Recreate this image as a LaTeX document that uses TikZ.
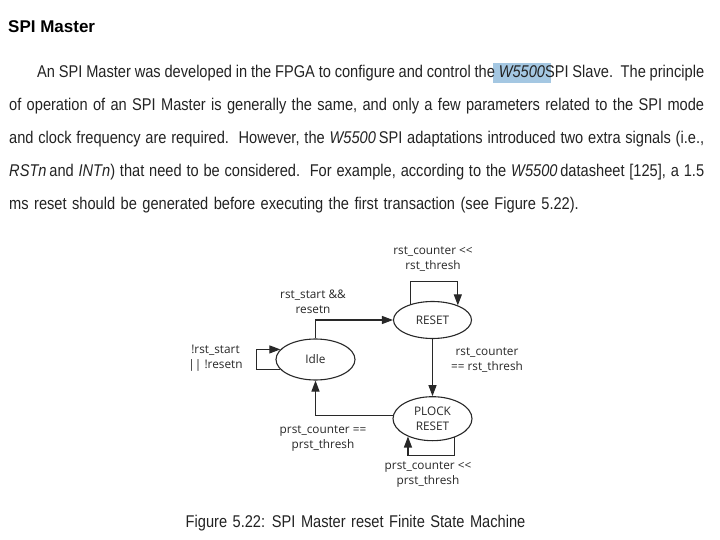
\documentclass[tikz,border=0pt]{standalone}
\usepackage{fontspec}
\setmainfont{Liberation Sans}[FakeStretch=0.86, WordSpace=1.35]
\newfontfamily\headfont{Liberation Sans}
\newfontfamily\fsmfont{Open Sans}
\usetikzlibrary{arrows.meta,shapes.geometric}
\definecolor{bodytext}{RGB}{35,35,35}
\definecolor{fsmline}{RGB}{40,40,40}
\definecolor{selblue}{RGB}{164,199,226}
\tikzset{
  state/.style={draw=fsmline, line width=1.1pt, ellipse, align=center, inner sep=0pt,
    font=\fsmfont\fontsize{11.8}{15}\selectfont, text=fsmline},
  guard/.style={font=\fsmfont\fontsize{11.8}{15}\selectfont, text=fsmline, align=center, inner sep=0pt},
  textline/.style={anchor=base west, inner sep=0pt, font=\fontsize{17}{20}\selectfont, text=bodytext},
}
\begin{document}
\begin{tikzpicture}[x=1pt, y=-1pt, >={Triangle[length=11pt,width=8pt]}]
        \fill[white] (0,0) rectangle (720,540);
        \useasboundingbox (0,0) rectangle (720,540);
        % heading and paragraph
        \node[anchor=base west, inner sep=0pt, font=\headfont\bfseries\fontsize{17}{20}\selectfont] at(8, 33) (title) {SPI Master};
        \fill[selblue] (493,63) rectangle (551,83);
        \node[textline] at(37, 78) (p1) {\makebox[667pt][s]{An SPI Master was developed in the FPGA to configure and control the \textit{W5500}SPI Slave.\ \ The principle}};
        \node[textline] at(9, 111) (p2) {\makebox[695pt][s]{of operation of an SPI Master is generally the same, and only a few parameters related to the SPI mode}};
        \node[textline] at(9, 144) (p3) {\makebox[695pt][s]{and clock frequency are required.\ \ However, the \textit{W5500}\,SPI adaptations introduced two extra signals (i.e.,}};
        \node[textline] at(9, 177) (p4) {\makebox[695pt][s]{\textit{RSTn}\,and \textit{INTn}) that need to be considered.\ \ For example, according to the \textit{W5500}\,datasheet [125], a 1.5}};
        \node[textline] at(9, 210) (p5) {ms reset should be generated before executing the first transaction (see Figure 5.22).};
        % states
        \node[state, minimum width=79pt, minimum height=41pt] at(315.5, 359.5) (idle) {Idle};
        \node[state, minimum width=78pt, minimum height=37pt] at(432.5, 320) (reset) {RESET};
        \node[state, minimum width=79pt, minimum height=44pt] at(432.5, 418.7) (plock) {PLOCK\\RESET};
        % transitions
        \draw[->, fsmline, line width=1.1pt] (idle.north) |- (reset.west);
        \draw[->, fsmline, line width=1.1pt] (reset) -- (plock);
        \draw[->, fsmline, line width=1.1pt] (plock.176) -| (idle.south);
        \draw[->, fsmline, line width=1.1pt] (idle.196) -- ++(-24,0) |- (idle.164);
        \draw[->, fsmline, line width=1.1pt] (reset.145) -- ++(0,-23) -| (reset.30);
        \draw[->, fsmline, line width=1.1pt] (plock.320) -- ++(0,18) -| (plock.216);
        % guards
        \node[guard] at(433, 259.5) (g1) {rst\_counter <<\\rst\_thresh};
        \node[guard] at(313, 302) (g2) {rst\_start \&\&\\resetn};
        \node[guard] at(215.5, 358.7) (g3) {!rst\_start\\|| !resetn};
        \node[guard] at(487, 359.7) (g4) {rst\_counter\\== rst\_thresh};
        \node[guard] at(323, 439) (g5) {prst\_counter ==\\prst\_thresh};
        \node[guard] at(428, 475) (g6) {prst\_counter <<\\prst\_thresh};
        % caption
        \node[anchor=base, inner sep=0pt, font=\fontsize{17}{20}\selectfont, text=bodytext] at(355.5, 527) (cap) {Figure 5.22: SPI Master reset Finite State Machine};
    \end{tikzpicture}
\end{document}
